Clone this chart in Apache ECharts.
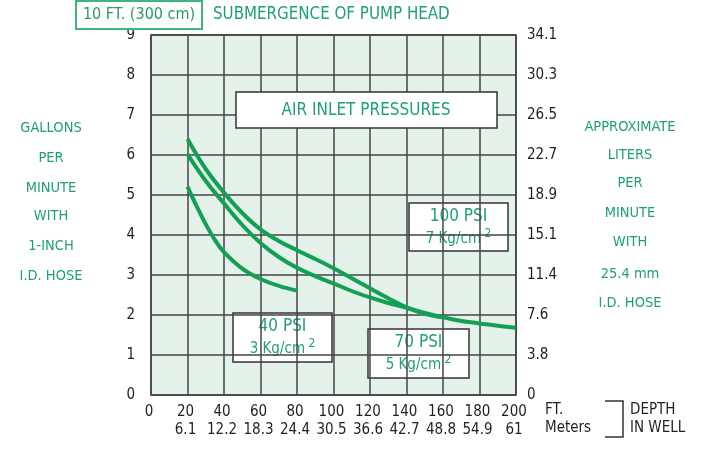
<!DOCTYPE html>
<html>
<head>
<meta charset="utf-8">
<script src="https://cdn.jsdelivr.net/npm/echarts@6/dist/echarts.min.js"></script>
<style>
  html, body { margin: 0; padding: 0; background: #fff; }
  #main { width: 702px; height: 451px; }
</style>
</head>
<body>
<div id="main"></div>
<script>
// depth in well (ft) vs gallons per minute
const psi100 = [[20, 6.4], [30, 5.65], [40, 5.06], [50, 4.55], [60, 4.14], [70, 3.85], [80, 3.62],
  [90, 3.4], [100, 3.17], [110, 2.92], [120, 2.67], [130, 2.42], [140, 2.19], [150, 2.03],
  [160, 1.94], [170, 1.85], [180, 1.79], [190, 1.73], [200, 1.68]];
const psi70 = [[20, 6.02], [30, 5.35], [40, 4.79], [50, 4.25], [60, 3.8], [70, 3.45], [80, 3.18],
  [90, 2.97], [100, 2.79], [110, 2.6], [120, 2.44], [130, 2.3], [140, 2.18], [150, 2.05], [160, 1.94]];
const psi40 = [[20, 5.21], [25, 4.72], [30, 4.27], [35, 3.88], [40, 3.57], [50, 3.16], [60, 2.9],
  [70, 2.73], [80, 2.61]];

const ftLabels = ['0', '20', '40', '60', '80', '100', '120', '140', '160', '180', '200'];
const meterLabels = ['', '6.1', '12.2', '18.3', '24.4', '30.5', '36.6', '42.7', '48.8', '54.9', '61'];
const gpmLabels = ['0', '1', '2', '3', '4', '5', '6', '7', '8', '9'];
const literLabels = ['0', '3.8', '7.6', '11.4', '15.1', '18.9', '22.7', '26.5', '30.3', '34.1'];

const leftText = ['GALLONS', 'PER', 'MINUTE', 'WITH', '1-INCH', 'I.D. HOSE'];
const rightText = ['APPROXIMATE', 'LITERS', 'PER', 'MINUTE', 'WITH', '25.4 mm', 'I.D. HOSE'];

const FONT = "'Liberation Sans Narrow', 'DejaVu Sans Condensed', 'Roboto', sans-serif";
const GREEN_TEXT = '#1f9f76';
const LINE_GREEN = '#13a055';
const DARK = '#231f20';

const chart = echarts.init(document.getElementById('main'));

function textEl(x, y, text, opts) {
  return {
    type: 'text',
    x,
    y,
    style: Object.assign({
      text,
      fill: GREEN_TEXT,
      font: '500 14.5px ' + FONT,
      textAlign: 'center',
      textVerticalAlign: 'middle',
    }, opts || {}),
    z: 100,
  };
}

function psiBox(x, y, w, h, title, unit) {
  return {
    type: 'group',
    x,
    y,
    z: 100,
    children: [
      {
        type: 'rect',
        shape: { x: 0, y: 0, width: w, height: h },
        style: { fill: '#fff', stroke: '#333', lineWidth: 1.5 },
      },
      {
        type: 'text',
        x: w / 2,
        y: 14,
        style: {
          text: title, fill: GREEN_TEXT, font: '500 17px ' + FONT, textAlign: 'center', textVerticalAlign: 'middle',
        },
      },
      {
        type: 'text',
        x: w / 2,
        y: 34,
        style: {
          text: '{u|' + unit + '}{s| 2}',
          textAlign: 'center',
          textVerticalAlign: 'middle',
          rich: {
            u: { fill: GREEN_TEXT, fontSize: 15, fontFamily: FONT, verticalAlign: 'bottom' },
            s: { fill: GREEN_TEXT, fontSize: 12, fontFamily: FONT, verticalAlign: 'bottom', padding: [0, 0, 7, 0] },
          },
        },
      },
    ],
  };
}

const graphics = [
  {
    type: 'rect',
    shape: { x: 76, y: 1, width: 126, height: 28 },
    style: { fill: '#fff', stroke: '#3db57c', lineWidth: 2 },
    z: 100,
  },
  textEl(139, 15, '10 FT. (300 cm)', { font: '16px ' + FONT, fill: '#2a9a6a' }),
  textEl(213, 15, 'SUBMERGENCE OF PUMP HEAD', { font: '16.8px ' + FONT, textAlign: 'left' }),
  {
    type: 'rect',
    shape: { x: 236, y: 92, width: 261, height: 36 },
    style: { fill: '#fff', stroke: '#333', lineWidth: 1.5 },
    z: 100,
  },
  textEl(366, 111, 'AIR INLET PRESSURES', { font: '500 17px ' + FONT }),
  psiBox(409, 203, 99, 48, '100 PSI', '7 Kg/cm'),
  psiBox(233, 313, 99, 49, '40 PSI', '3 Kg/cm'),
  psiBox(368, 329, 101, 49, '70 PSI', '5 Kg/cm'),
  textEl(545, 410, 'FT.', { fill: DARK, textAlign: 'left', font: '15px ' + FONT }),
  textEl(545, 428, 'Meters', { fill: DARK, textAlign: 'left', font: '15px ' + FONT }),
  {
    type: 'polyline',
    shape: { points: [[605, 401], [623, 401], [623, 437], [605, 437]] },
    style: { stroke: '#333', lineWidth: 1.5, fill: null },
    z: 100,
  },
  textEl(630, 410, 'DEPTH', { fill: DARK, textAlign: 'left', font: '15px ' + FONT }),
  textEl(630, 428, 'IN WELL', { fill: DARK, textAlign: 'left', font: '15px ' + FONT }),
];

const leftY = [128, 158, 188, 216, 246, 276];
leftText.forEach((t, i) => graphics.push(textEl(51, leftY[i], t)));
const rightY = [127, 155, 183, 213, 242, 274, 303];
rightText.forEach((t, i) => graphics.push(textEl(630, rightY[i], t)));

const gridLine = { show: true, lineStyle: { color: '#444', width: 1.5 } };

const option = {
  animation: false,
  backgroundColor: '#fff',
  grid: {
    left: 151, top: 35, width: 365, height: 360,
    show: true, backgroundColor: '#e4f2ea', borderColor: '#3a3a3a', borderWidth: 1.5,
  },
  xAxis: {
    type: 'value',
    min: 0,
    max: 200,
    interval: 20,
    axisLine: { show: false },
    axisTick: { show: false },
    splitLine: gridLine,
    axisLabel: {
      margin: 8,
      formatter: (v) => {
        const i = Math.round(v / 20);
        return '{a|' + ftLabels[i] + '}\n{a|' + meterLabels[i] + '}';
      },
      rich: { a: { fontSize: 15, fontFamily: FONT, color: DARK, lineHeight: 18, padding: [0, 4, 0, 0] } },
    },
  },
  yAxis: [
    {
      type: 'value',
      min: 0,
      max: 9,
      interval: 1,
      axisLine: { show: false },
      axisTick: { show: false },
      splitLine: gridLine,
      axisLabel: {
        margin: 16,
        fontSize: 15,
        fontFamily: FONT,
        color: DARK,
        formatter: (v) => gpmLabels[Math.round(v)],
      },
    },
    {
      type: 'value',
      position: 'right',
      min: 0,
      max: 9,
      interval: 1,
      axisLine: { show: false },
      axisTick: { show: false },
      splitLine: { show: false },
      axisLabel: {
        margin: 11,
        fontSize: 15,
        fontFamily: FONT,
        color: DARK,
        formatter: (v) => literLabels[Math.round(v)],
      },
    },
  ],
  series: [
    { name: '100 PSI', data: psi100 },
    { name: '70 PSI', data: psi70 },
    { name: '40 PSI', data: psi40 },
  ].map(s => ({
    type: 'line',
    name: s.name,
    data: s.data,
    smooth: 0.4,
    symbol: 'none',
    lineStyle: { color: LINE_GREEN, width: 4 },
    z: 5,
  })),
  graphic: graphics,
};

chart.setOption(option);
</script>
</body>
</html>
